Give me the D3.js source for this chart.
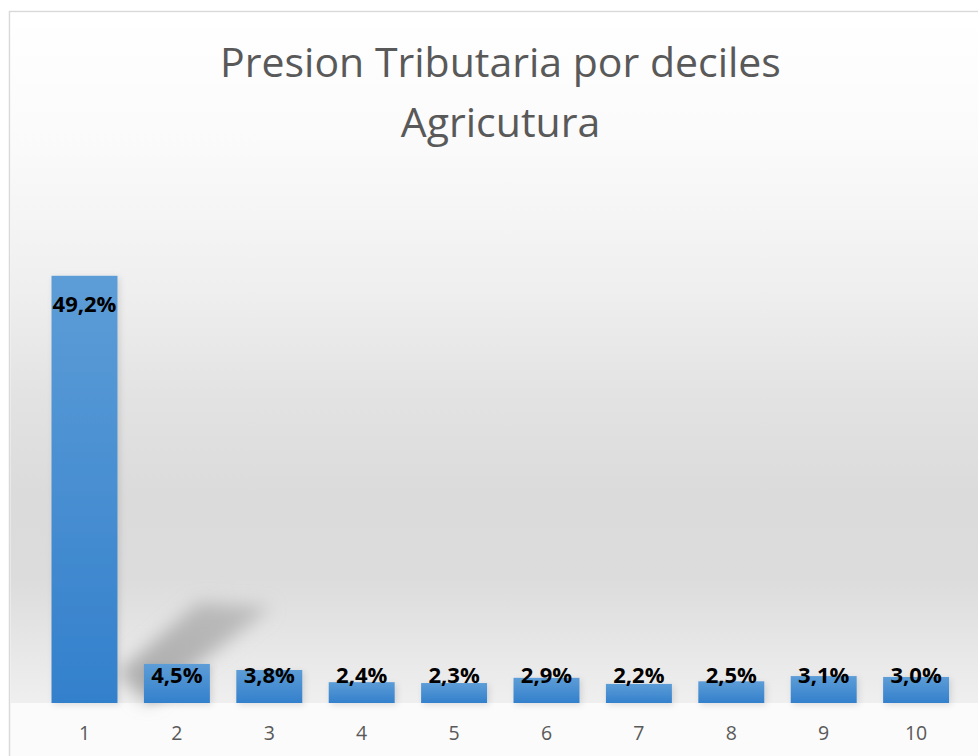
<!DOCTYPE html>
<html>
<head>
<meta charset="utf-8">
<script src="https://cdn.jsdelivr.net/npm/d3@7"></script>
<style>
  body { margin: 0; background: #ffffff; }
  svg { display: block; }
</style>
</head>
<body>
<div id="chart"></div>
<script>
// data
var deciles = ["1", "2", "3", "4", "5", "6", "7", "8", "9", "10"];
var presion = [49.2, 4.5, 3.8, 2.4, 2.3, 2.9, 2.2, 2.5, 3.1, 3.0];
var titleLines = ["Presion Tributaria por deciles", "Agricutura"];

var width = 978, height = 756;
var baseY = 703;

var svg = d3.select("#chart").append("svg")
    .attr("width", width)
    .attr("height", height);

var defs = svg.append("defs");

// background of the plot area (white at top, grey lower down)
var bgGrad = defs.append("linearGradient")
    .attr("id", "plotBg")
    .attr("x1", 0).attr("y1", 0).attr("x2", 0).attr("y2", 1);
[[0, "#ffffff"], [0.2, "#fafafa"], [0.4, "#efefef"], [0.55, "#e3e3e3"],
 [0.7, "#dbdbdb"], [0.82, "#dcdcdc"], [0.93, "#e8e8e8"], [1, "#efefef"]]
    .forEach(function(s) {
        bgGrad.append("stop").attr("offset", s[0]).attr("stop-color", s[1]);
    });

var barGrad = defs.append("linearGradient")
    .attr("id", "barFill")
    .attr("x1", 0).attr("y1", 0).attr("x2", 0).attr("y2", 1);
barGrad.append("stop").attr("offset", 0).attr("stop-color", "#5d9dd7");
barGrad.append("stop").attr("offset", 1).attr("stop-color", "#3380cc");

var blur = defs.append("filter").attr("id", "blurShadow")
    .attr("x", "-50%").attr("y", "-50%").attr("width", "200%").attr("height", "200%");
blur.append("feGaussianBlur").attr("stdDeviation", 9);

var soft = defs.append("filter").attr("id", "softShadow")
    .attr("x", "-20%").attr("y", "-20%").attr("width", "140%").attr("height", "160%");
soft.append("feDropShadow").attr("dx", 2).attr("dy", 2)
    .attr("stdDeviation", 3).attr("flood-color", "#000").attr("flood-opacity", 0.12);

var shadowGrad = defs.append("linearGradient")
    .attr("id", "shadowFill")
    .attr("x1", 0).attr("y1", 1).attr("x2", 1).attr("y2", 0);
shadowGrad.append("stop").attr("offset", 0).attr("stop-color", "#a6a6a6").attr("stop-opacity", 0.95);
shadowGrad.append("stop").attr("offset", 1).attr("stop-color", "#b0b0b0").attr("stop-opacity", 0.75);

// chart frame + backgrounds
svg.append("rect")
    .attr("x", 9.5).attr("y", 11.5)
    .attr("width", 1000).attr("height", 800)
    .attr("fill", "#fbfbfb")
    .attr("stroke", "#d9d9d9")
    .attr("stroke-width", 1.5);

svg.append("rect")
    .attr("x", 10.5).attr("y", 12.5)
    .attr("width", 1000).attr("height", baseY - 12.5)
    .attr("fill", "url(#plotBg)");

var x = d3.scaleBand()
    .domain(deciles)
    .range([38.3, 962.3])
    .paddingInner(0.286)
    .paddingOuter(0.143);

var y = d3.scaleLinear()
    .domain([0, 60])
    .range([baseY, 182]);

// perspective shadow of the tall first bar
var b1x = x(deciles[0]) + x.bandwidth();
var b1h = baseY - y(presion[0]);
svg.append("polygon")
    .attr("points", [
        [b1x, baseY - 30],
        [b1x + b1h * 0.19, baseY - b1h * 0.235],
        [b1x + b1h * 0.36, baseY - b1h * 0.225],
        [b1x + 30, baseY]
    ].map(function(p) { return p.join(","); }).join(" "))
    .attr("fill", "url(#shadowFill)")
    .attr("filter", "url(#blurShadow)");

// bars
svg.append("g").selectAll("rect")
    .data(presion)
    .enter().append("rect")
    .attr("x", function(d, i) { return x(deciles[i]); })
    .attr("y", function(d) { return y(d); })
    .attr("width", x.bandwidth())
    .attr("height", function(d) { return baseY - y(d); })
    .attr("fill", "url(#barFill)")
    .attr("filter", "url(#softShadow)");

// value labels
svg.append("g").selectAll("text")
    .data(presion)
    .enter().append("text")
    .attr("x", function(d, i) { return x(deciles[i]) + x.bandwidth() / 2; })
    .attr("y", function(d) { return Math.min(y(d) + 36, baseY - 20); })
    .attr("text-anchor", "middle")
    .style("font-family", "'Open Sans', sans-serif")
    .style("font-weight", 700)
    .style("font-size", "22px")
    .style("fill", "#000000")
    .text(function(d) { return d.toFixed(1).replace(".", ",") + "%"; });

// category axis
var xAxis = svg.append("g")
    .attr("transform", "translate(0," + baseY + ")")
    .call(d3.axisBottom(x).tickSize(0).tickPadding(0));
xAxis.select(".domain").remove();
xAxis.selectAll("text")
    .attr("y", 37)
    .attr("dy", 0)
    .style("font-family", "'Open Sans', sans-serif")
    .style("font-size", "19.5px")
    .style("fill", "#595959");

// title
svg.append("g").selectAll("text")
    .data(titleLines)
    .enter().append("text")
    .attr("x", 500.5)
    .attr("y", function(d, i) { return 76.7 + i * 60; })
    .attr("text-anchor", "middle")
    .style("font-family", "'Open Sans', sans-serif")
    .style("font-size", "41px")
    .style("fill", "#595959")
    .text(function(d) { return d; });
</script>
</body>
</html>
